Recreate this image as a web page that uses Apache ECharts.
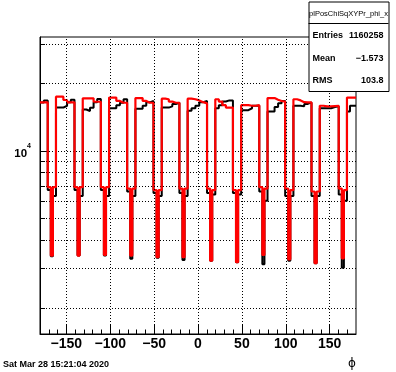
<!DOCTYPE html>
<html><head><meta charset="utf-8">
<script src="https://cdn.jsdelivr.net/npm/echarts@6/dist/echarts.min.js"></script>
<style>html,body{margin:0;padding:0;background:#fff}#c{width:396px;height:372px}</style>
</head><body><div id="c"></div>
<script>
// ---- data ----
const xMajorTicks = [-150, -100, -50, 0, 50, 100, 150];
const xMinorTicks = [-170,-160,-150,-140,-130,-120,-110,-100,-90,-80,-70,-60,-50,-40,-30,-20,-10,0,10,20,30,40,50,60,70,80,90,100,110,120,130,140,150,160,170];
const yMajorTicks = [10000];
const yMinorTicks = [2000,3000,4000,5000,6000,7000,8000,9000,10000,20000,30000];

const dipCenters = [-166.5, -136, -106, -76, -46, -16.5, 15, 44.5, 74.5, 104, 134, 165];
const dipHalf = 4.7;
const deepHalf = 1.2;

// plateau values between dips (first and last are partial)
const redPlateaus = [
  [16450, 16450],
  [17450, 17450, 16870, 16470, 16470],
  [17160, 17160, 17160, 16570, 16570],
  [17300, 17300, 16700, 16400, 16400],
  [17200, 17200, 16700, 16400, 16400],
  [17100, 17000, 16600, 16400, 16400],
  [17100, 17000, 16800, 16500, 16300],
  [17000, 16600, 16000, 15600, 15600],
  [16000, 16000, 15900, 15900, 16000],
  [17200, 17200, 16900, 16700, 16600],
  [17000, 16800, 16500, 16450, 16450],
  [15900, 15800, 15800, 15850, 15900],
  [17300, 17300, 17300]
];
const blackPlateaus = [
  [16450, 16800],
  [15600, 15600, 15900, 16500, 16900],
  [15300, 15070, 15590, 16470, 17040],
  [15500, 15500, 16000, 16400, 17000],
  [15400, 15400, 15900, 16470, 16700],
  [15600, 15600, 15800, 16200, 16400],
  [15100, 15500, 15900, 16500, 16700],
  [15500, 16000, 16600, 16800, 16800],
  [15200, 15200, 15500, 15900, 15900],
  [15000, 15000, 15700, 16300, 16700],
  [15900, 15900, 15800, 16200, 16450],
  [15500, 15500, 15500, 15700, 15800],
  [15000, 15900, 15900]
];
const redShoulderL   = [6900, 6900, 6900, 6800, 6700, 6800, 6800, 6700, 6900, 6800, 6600, 6800];
const redShoulderR   = [6900, 6900, 6900, 6800, 6700, 6800, 6700, 6700, 6800, 6700, 6600, 6700];
const blackShoulderL = [6700, 6700, 6700, 6600, 6500, 6500, 6500, 6500, 6600, 6300, 6300, 6400];
const blackShoulderR = [6300, 6300, 6300, 6300, 6300, 6300, 6400, 6400, 6000, 6300, 6300, 6000];
const redDeep   = [3420, 3420, 3443, 3420, 3363, 3363, 3247, 3195, 3443, 3294, 3162, 3327];
const blackDeep = [3400, 3420, 3420, 3315, 3350, 3270, 3247, 3195, 3130, 3247, 3162, 3020];

const statsTitle = 'plPosChiSqXYPr_phi_x';
const statsRows = [['Entries', '1160258'], ['Mean', '\u22121.573'], ['RMS', '103.8']];
const dateText = 'Sat Mar 28 15:21:04 2020';

// ---- build histogram step points (left bin edges) ----
function buildHist(plateaus, shL, shR, deep) {
  const pts = [];
  let start = -180;
  for (let k = 0; k < plateaus.length; k++) {
    const end = k < dipCenters.length ? dipCenters[k] - dipHalf : 180;
    const vals = plateaus[k];
    const w = (end - start) / vals.length;
    for (let i = 0; i < vals.length; i++) pts.push([start + i * w, vals[i]]);
    if (k < dipCenters.length) {
      const c = dipCenters[k];
      pts.push([c - dipHalf, shL[k]]);
      pts.push([c - deepHalf, deep[k]]);
      pts.push([c + deepHalf, shR[k]]);
      start = c + dipHalf;
    }
  }
  const last = plateaus[plateaus.length - 1];
  pts.push([180, last[last.length - 1]]);
  return pts;
}
const blackData = buildHist(blackPlateaus, blackShoulderL, blackShoulderR, blackDeep);
const redData = buildHist(redPlateaus, redShoulderL, redShoulderR, redDeep);

const FONT = 'Liberation Sans';
const chart = echarts.init(document.getElementById('c'), null, {renderer: 'canvas'});
const dotted = {color: '#000', width: 1, type: [1, 2]};
chart.setOption({
  animation: false,
  backgroundColor: '#fff',
  grid: {left: 40, right: 40, top: 37, bottom: 38, show: true, borderColor: '#000', borderWidth: 1, backgroundColor: 'transparent'},
  xAxis: [{
    type: 'value', min: -180, max: 180, position: 'bottom',
    axisLine: {show: true, onZero: false, lineStyle: {color: '#000', width: 1}},
    axisTick: {show: true, inside: true, length: 9, customValues: xMajorTicks, lineStyle: {color: '#000'}},
    axisLabel: {show: true, customValues: xMajorTicks, margin: 3, color: '#000', fontFamily: FONT, fontWeight: 'bold', fontSize: 14,
      formatter: v => String(v).replace('-', '\u2212')},
    splitLine: {show: false}
  }, {
    type: 'value', min: -180, max: 180, position: 'bottom',
    axisLine: {show: false, onZero: false},
    axisTick: {show: true, inside: true, length: 4.5, customValues: xMinorTicks, lineStyle: {color: '#000'}},
    axisLabel: {show: false},
    splitLine: {show: false}
  }],
  yAxis: [{
    type: 'log', logBase: 10, min: 1531, max: 32180, position: 'left',
    axisLine: {show: true, onZero: false, lineStyle: {color: '#000', width: 1}},
    axisTick: {show: true, inside: true, length: 9, customValues: yMajorTicks, lineStyle: {color: '#000'}},
    axisLabel: {show: true, customValues: yMajorTicks, margin: 9, color: '#000',
      formatter: v => (Math.abs(v - 10000) < 1 ? '{a|10}{b|4}' : ''),
      rich: {
        a: {fontFamily: FONT, fontWeight: 'bold', fontSize: 11.5, lineHeight: 16, color: '#000', padding: [6, 0, 0, 0]},
        b: {fontFamily: FONT, fontWeight: 'bold', fontSize: 7, lineHeight: 8, color: '#000', verticalAlign: 'top'}
      }},
    splitLine: {show: false}
  }, {
    type: 'log', logBase: 10, min: 1531, max: 32180, position: 'left', offset: 0,
    axisLine: {show: false, onZero: false},
    axisTick: {show: true, inside: true, length: 5, customValues: yMinorTicks, lineStyle: {color: '#000'}},
    axisLabel: {show: false},
    splitLine: {show: true, lineStyle: dotted}
  }],
  series: [{
    type: 'line', data: [], xAxisIndex: 0, yAxisIndex: 0, z: 1, silent: true, symbol: 'none',
    markLine: {silent: true, symbol: 'none', label: {show: false}, animation: false,
      lineStyle: dotted, emphasis: {disabled: true},
      data: xMajorTicks.map(v => ({xAxis: v}))}
  }, {
    type: 'line', step: 'end', data: blackData, showSymbol: false, symbol: 'none',
    xAxisIndex: 0, yAxisIndex: 0, lineStyle: {color: '#000', width: 2}, z: 3, silent: true
  }, {
    type: 'line', step: 'end', data: redData, showSymbol: false, symbol: 'none',
    xAxisIndex: 0, yAxisIndex: 0, lineStyle: {color: '#ff0000', width: 2.2}, z: 4, silent: true
  }],
  graphic: [
    {type: 'rect', left: 308.5, top: 1.5, shape: {width: 80, height: 89.5}, style: {fill: '#fff', stroke: '#000', lineWidth: 1}, z: 100},
    {type: 'line', shape: {x1: 308.5, y1: 23.5, x2: 388.5, y2: 23.5}, style: {stroke: '#000', lineWidth: 1}, z: 101},
    {type: 'text', x: 348.5, y: 14, style: {text: statsTitle, fill: '#000', font: '7.5px "Liberation Sans"', textAlign: 'center', textVerticalAlign: 'middle'}, z: 101},
    ...statsRows.map((r, i) => ({type: 'text', x: 312.5, y: 36 + i * 22.2, style: {text: r[0], fill: '#000', font: 'bold 9px "Liberation Sans"', textAlign: 'left', textVerticalAlign: 'middle'}, z: 101})),
    ...statsRows.map((r, i) => ({type: 'text', x: 383.5, y: 36 + i * 22.2, style: {text: r[1], fill: '#000', font: 'bold 9px "Liberation Sans"', textAlign: 'right', textVerticalAlign: 'middle'}, z: 101})),
    {type: 'text', x: 3, y: 364.5, style: {text: dateText, fill: '#000', font: 'bold 9px "Liberation Sans"', textAlign: 'left', textVerticalAlign: 'middle'}, z: 101},
    {type: 'text', x: 352, y: 364, style: {text: '\u03D5', fill: '#000', font: '12px "DejaVu Sans"', textAlign: 'center', textVerticalAlign: 'middle'}, z: 101}
  ]
});
</script></body></html>
